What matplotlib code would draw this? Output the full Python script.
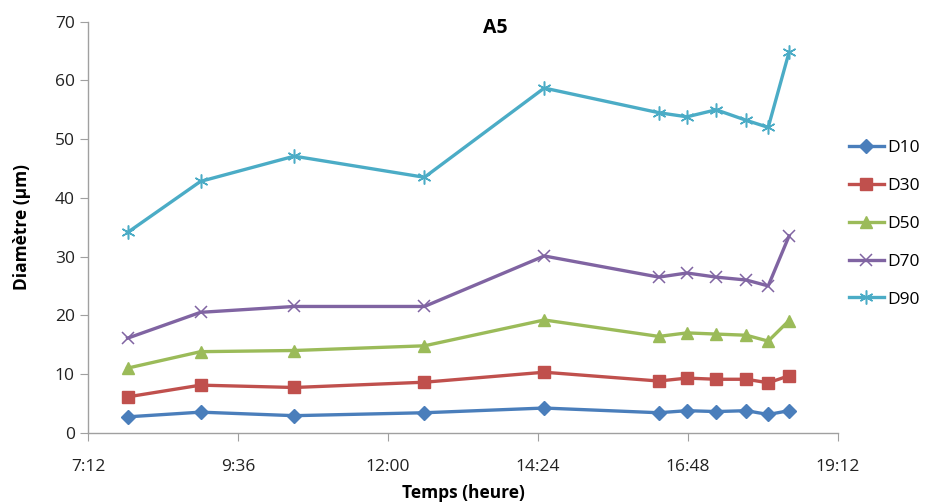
import matplotlib
matplotlib.use("Agg")
import matplotlib.pyplot as plt

times = ["7:50", "9:00", "10:30", "12:35", "14:30", "16:20", "16:47", "17:15", "17:44", "18:05", "18:25"]
D10 = [2.7, 3.5, 2.9, 3.4, 4.2, 3.4, 3.75, 3.6, 3.75, 3.1, 3.75]
D30 = [6.1, 8.1, 7.7, 8.6, 10.3, 8.8, 9.3, 9.1, 9.1, 8.5, 9.7]
D50 = [11.0, 13.8, 14.0, 14.8, 19.2, 16.4, 17.0, 16.8, 16.6, 15.6, 19.1]
D70 = [16.1, 20.5, 21.5, 21.5, 30.1, 26.5, 27.2, 26.5, 26.0, 25.0, 33.5]
D90 = [34.1, 42.8, 47.1, 43.5, 58.7, 54.5, 53.8, 55.0, 53.2, 52.0, 64.8]
tick_labels = ["7:12", "9:36", "12:00", "14:24", "16:48", "19:12"]
yticks = [0, 10, 20, 30, 40, 50, 60, 70]


def to_h(s):
    h, m = s.split(":")
    return int(h) + int(m) / 60.0


x = [to_h(t) for t in times]
xt = [to_h(t) for t in tick_labels]

plt.rcParams['font.family'] = ['Open Sans', 'DejaVu Sans']

fig = plt.figure(figsize=(9.25, 5.03), dpi=100)
ax = fig.add_axes([88 / 925, 1 - 432.7 / 503, (838 - 88) / 925, (432.7 - 21.7) / 503])

series = [
    ("D10", D10, "#4A7EBB", "D", 7, 1),
    ("D30", D30, "#C0504D", "s", 8, 1),
    ("D50", D50, "#9BBB59", "^", 9, 1),
    ("D70", D70, "#8064A2", "x", 9, 1.1),
    ("D90", D90, "#4BACC6", (6, 2, 0), 10, 1.1),
]
handles = []
for name, vals, col, mk, ms, mew in series:
    l, = ax.plot(x, vals, color=col, lw=2.4, marker=mk, markersize=ms,
                 markeredgewidth=mew, markerfacecolor=col, markeredgecolor=col,
                 label=name, solid_joinstyle='round')
    handles.append(l)

ax.set_xlim(xt[0], xt[-1])
ax.set_ylim(0, 70)
ax.set_xticks(xt)
ax.set_xticklabels(tick_labels)
ax.set_yticks(yticks)
for s in ["top", "right"]:
    ax.spines[s].set_visible(False)
for s in ["left", "bottom"]:
    ax.spines[s].set_color("#A0A0A0")
    ax.spines[s].set_linewidth(1)
ax.tick_params(axis='both', colors="#A0A0A0", labelcolor="#222222", labelsize=12.5,
               length=6, direction='out')
ax.tick_params(axis='x', pad=13)

fig.text(495 / 925, 1 - 28 / 503, "A5", ha='center', va='center', fontsize=14, fontweight='bold')
fig.text(463 / 925, 1 - 493 / 503, "Temps (heure)", ha='center', va='center', fontsize=12.5,
         fontweight='bold')
fig.text(22 / 925, 1 - 227 / 503, "Diamètre (µm)", ha='center', va='center', fontsize=12.5,
         fontweight='bold', rotation=90)

leg = fig.legend(handles=handles, loc='upper left', bbox_to_anchor=(842 / 925, 1 - 133 / 503),
                 frameon=False, fontsize=12.5, handlelength=2.0, handletextpad=0.2,
                 labelspacing=1.25, borderaxespad=0)

fig.savefig("out.png", dpi=100)
